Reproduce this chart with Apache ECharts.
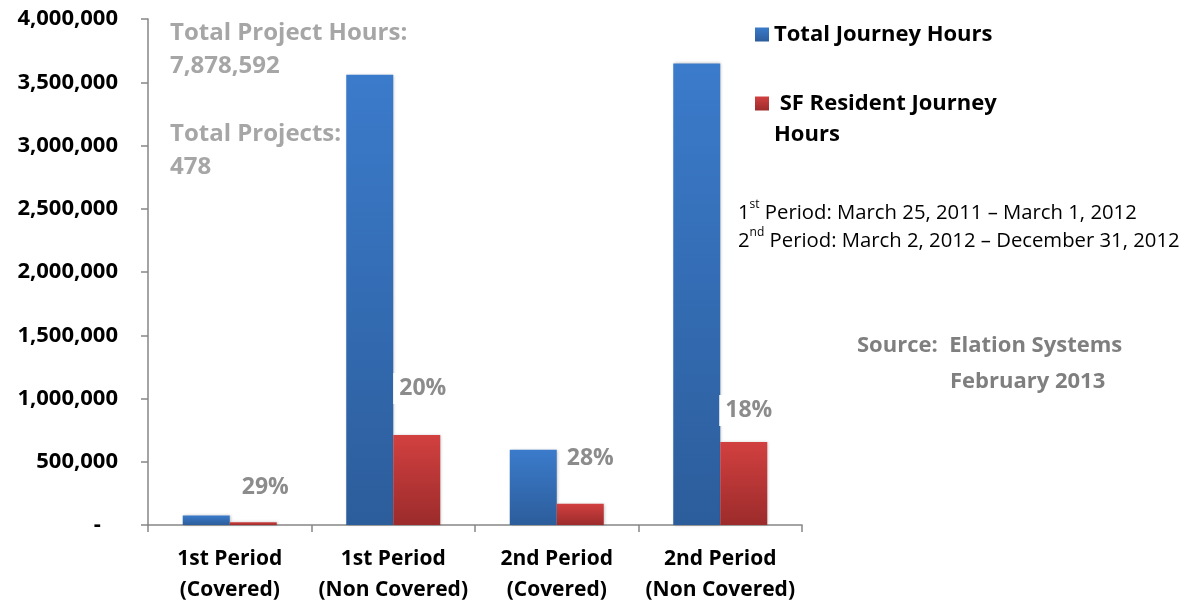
<!DOCTYPE html>
<html>
<head>
<meta charset="utf-8">
<script src="https://cdn.jsdelivr.net/npm/echarts@6/dist/echarts.min.js"></script>
<style>
html,body{margin:0;padding:0;background:#fff;}
#chart{width:1202px;height:605px;}
</style>
</head>
<body>
<div id="chart"></div>
<script>
const categories = ['1st Period\n(Covered)', '1st Period\n(Non Covered)', '2nd Period\n(Covered)', '2nd Period\n(Non Covered)'];
const totalHours = [76000, 3560000, 594000, 3648592];
const residentHours = [22000, 712000, 167000, 657000];
const pctLabels = ['29%', '20%', '28%', '18%'];
const yTicks = [0, 500000, 1000000, 1500000, 2000000, 2500000, 3000000, 3500000, 4000000];
const seriesNames = ['Total Journey Hours', 'SF Resident Journey Hours'];

const FONT = 'Open Sans';
const labelOffsets = [[12, -14], [6, -26], [10, -25], [5, -11]];

const blueGrad = new echarts.graphic.LinearGradient(0, 0, 0, 1, [
  {offset: 0, color: '#3b7bcb'}, {offset: 1, color: '#2c5d9b'}
]);
const redGrad = new echarts.graphic.LinearGradient(0, 0, 0, 1, [
  {offset: 0, color: '#d24040'}, {offset: 1, color: '#9c2b2b'}
]);

function fmt(v) {
  if (v === 0) return '-   ';
  return v.toLocaleString('en-US');
}

const chart = echarts.init(document.getElementById('chart'));
chart.setOption({
  animation: false,
  textStyle: {fontFamily: FONT},
  grid: {left: 148, top: 19, width: 654, height: 506, containLabel: false, outerBoundsMode: 'none'},
  legend: [{
    left: 750, top: 17, itemWidth: 14, itemHeight: 14, icon: 'rect',
    data: [seriesNames[0]],
    textStyle: {fontFamily: FONT, fontSize: 22, fontWeight: 'bold', color: '#000', lineHeight: 25}
  }, {
    left: 750, top: 52, itemWidth: 14, itemHeight: 14, icon: 'rect',
    data: [seriesNames[1]],
    formatter: () => '\n SF Resident Journey\nHours',
    textStyle: {fontFamily: FONT, fontSize: 22, fontWeight: 'bold', color: '#000', lineHeight: 31}
  }],
  xAxis: {
    type: 'category',
    data: categories,
    axisLine: {lineStyle: {color: '#868686', width: 1.5}},
    axisTick: {show: true, length: 7, lineStyle: {color: '#868686', width: 1.5}},
    axisLabel: {interval: 0, fontFamily: FONT, fontSize: 21, fontWeight: 'bold', color: '#000', lineHeight: 31, margin: 19}
  },
  yAxis: {
    type: 'value',
    min: yTicks[0], max: yTicks[yTicks.length - 1], interval: yTicks[1] - yTicks[0],
    splitLine: {show: false},
    axisLine: {show: true, lineStyle: {color: '#868686', width: 1.5}},
    axisTick: {show: true, length: 7, lineStyle: {color: '#868686', width: 1.5}},
    axisLabel: {fontFamily: FONT, fontSize: 22, fontWeight: 'bold', color: '#000', margin: 30, formatter: fmt}
  },
  series: [{
    name: seriesNames[0], type: 'bar', data: totalHours,
    barWidth: 47, barGap: '0%',
    itemStyle: {color: blueGrad, shadowBlur: 3, shadowColor: 'rgba(0,0,0,0.25)', shadowOffsetX: 1}
  }, {
    name: seriesNames[1], type: 'bar',
    data: residentHours.map((v, i) => ({
      value: v,
      label: {offset: labelOffsets[i]}
    })),
    barWidth: 47, barGap: '0%',
    itemStyle: {color: redGrad, shadowBlur: 3, shadowColor: 'rgba(0,0,0,0.25)', shadowOffsetX: 1},
    label: {
      show: true, position: 'top', distance: 5,
      formatter: p => pctLabels[p.dataIndex],
      fontFamily: FONT, fontSize: 23, fontWeight: 'bold', color: '#8c8c8c',
      backgroundColor: '#fff', padding: [4, 6]
    }
  }],
  graphic: [{
    type: 'text', left: 170, top: 17,
    style: {text: 'Total Project Hours:\n7,878,592', fontFamily: FONT, fontSize: 24, fontWeight: 'bold', fill: '#a6a6a6', lineHeight: 33}
  }, {
    type: 'text', left: 170, top: 118,
    style: {text: 'Total Projects:\n478', fontFamily: FONT, fontSize: 24, fontWeight: 'bold', fill: '#a6a6a6', lineHeight: 33}
  }, {
    type: 'text', left: 738, top: 199,
    style: {
      text: '{n|1}{s|st}{n| Period: March 25, 2011 – March 1, 2012}\n{n|2}{s|nd}{n| Period: March 2, 2012 – December 31, 2012}',
      fontFamily: FONT, fill: '#000',
      rich: {
        n: {fontFamily: FONT, fontSize: 20.3, lineHeight: 28, fill: '#000'},
        s: {fontFamily: FONT, fontSize: 12, lineHeight: 14, fill: '#000', verticalAlign: 'top'}
      }
    }
  }, {
    type: 'text', left: 857, top: 335,
    style: {text: 'Source:  Elation Systems', fontFamily: FONT, fontSize: 22, fontWeight: 'bold', fill: '#7f7f7f'}
  }, {
    type: 'text', left: 950, top: 371,
    style: {text: 'February 2013', fontFamily: FONT, fontSize: 22, fontWeight: 'bold', fill: '#7f7f7f'}
  }]
});
</script>
</body>
</html>
